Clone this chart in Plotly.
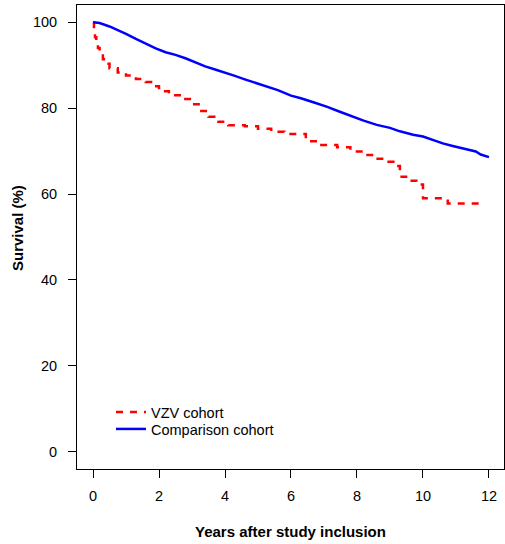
import plotly.graph_objects as go

# Comparison cohort (solid blue) – Kaplan-Meier estimates
comp_t = [0, 0.2, 0.5, 0.75, 1.0, 1.3, 1.6, 1.9, 2.2, 2.5, 2.8, 3.1, 3.4, 3.7, 4.0, 4.3,
          4.6, 4.9, 5.25, 5.6, 6.0, 6.3, 6.7, 7.1, 7.5, 7.8, 8.2, 8.6, 9.0, 9.3, 9.7,
          10.0, 10.3, 10.6, 10.9, 11.2, 11.5, 11.6, 11.75, 12.0]
comp_s = [100, 99.8, 99.0, 98.2, 97.3, 96.1, 95.0, 93.9, 93.0, 92.4, 91.6, 90.6, 89.7,
          89.0, 88.3, 87.5, 86.7, 85.9, 85.0, 84.2, 82.9, 82.3, 81.3, 80.3, 79.1, 78.2,
          77.1, 76.1, 75.4, 74.6, 73.8, 73.4, 72.6, 71.8, 71.2, 70.6, 70.1, 69.9, 69.2, 68.6]

# VZV cohort (dashed red)
vzv_t = [0, 0.03, 0.06, 0.1, 0.15, 0.2, 0.3, 0.4, 0.5, 0.75, 1.0, 1.3, 1.6, 1.8, 2.0, 2.3,
         2.7, 3.0, 3.2, 3.5, 3.8, 4.1, 4.6, 5.0, 5.4, 5.8, 6.45, 6.8, 7.4, 7.8, 8.2, 8.5,
         8.85, 9.1, 9.3, 9.6, 9.8, 10.0, 10.75, 11.88]
vzv_s = [100, 98.0, 96.5, 95.3, 94.0, 93.0, 91.4, 90.3, 89.3, 88.3, 87.6, 86.8, 86.1,
         85.1, 83.9, 83.0, 82.1, 80.9, 79.3, 78.0, 76.8, 76.0, 75.8, 75.2, 74.5, 74.0,
         72.3, 71.4, 70.9, 69.9, 69.1, 68.2, 67.5, 66.5, 64.0, 63.1, 62.2, 59.0, 57.8, 57.8]

x_ticks = [0, 2, 4, 6, 8, 10, 12]
y_ticks = [0, 20, 40, 60, 80, 100]

FONT = "Liberation Sans, Arial, sans-serif"

fig = go.Figure()
fig.add_trace(go.Scatter(x=vzv_t, y=vzv_s, mode="lines", name="VZV cohort", legend="legend",
                         line=dict(color="#ff0000", width=2.5, dash="7px,7px", shape="hv")))
fig.add_trace(go.Scatter(x=comp_t, y=comp_s, mode="lines", name="Comparison cohort",
                         legend="legend2",
                         line=dict(color="#0000ff", width=2.5, shape="linear")))

axis_common = dict(showgrid=False, zeroline=False, showline=True, mirror=True,
                   linecolor="black", linewidth=1, ticks="outside", ticklen=8,
                   tickcolor="black", tickwidth=1,
                   tickfont=dict(family=FONT, size=14.5, color="black"))

fig.update_xaxes(range=[-0.485, 12.455], tickvals=x_ticks, ticklabelstandoff=6, **axis_common)
fig.update_yaxes(range=[-4, 104], tickvals=y_ticks, ticklabelstandoff=8, **axis_common)

fig.add_annotation(text="<b>Years after study inclusion</b>", xref="paper", yref="paper",
                   x=0.5, y=(469 - 531) / 464, xanchor="center", yanchor="middle",
                   showarrow=False, font=dict(family=FONT, size=15, color="black"))
fig.add_annotation(text="<b>Survival (%)</b>", xref="paper", yref="paper",
                   x=(17 - 77) / 427, y=(469 - 228) / 464, xanchor="center", yanchor="middle",
                   textangle=-90, showarrow=False, font=dict(family=FONT, size=15, color="black"))

leg_common = dict(xanchor="left", yanchor="middle", bgcolor="rgba(0,0,0,0)",
                  font=dict(family=FONT, size=14.5, color="black"), itemwidth=30)

fig.update_layout(
    width=505, height=544,
    margin=dict(l=77, r=1, t=5, b=75),
    paper_bgcolor="white", plot_bgcolor="white",
    showlegend=True,
    legend=dict(x=(111 - 77) / 427, y=(469 - 412) / 464, **leg_common),
    legend2=dict(x=(111 - 77) / 427, y=(469 - 429) / 464, **leg_common),
)

fig.write_html("out.html")
